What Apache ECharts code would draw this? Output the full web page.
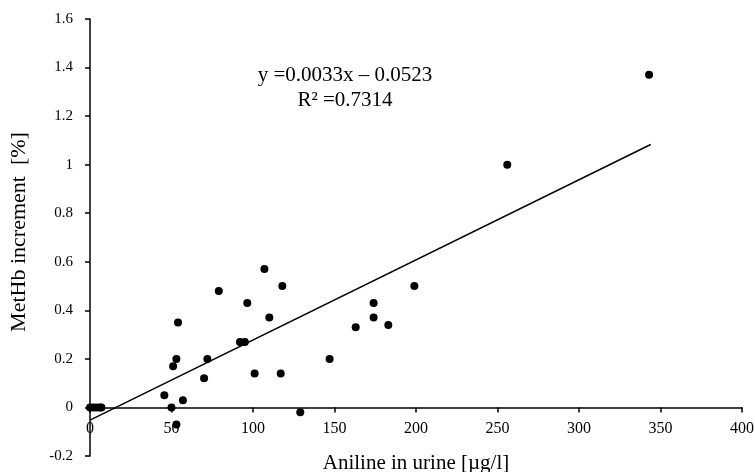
<!DOCTYPE html>
<html>
<head>
<meta charset="utf-8">
<script src="https://cdn.jsdelivr.net/npm/echarts@6/dist/echarts.min.js"></script>
<style>html,body{margin:0;padding:0;background:#fff}#c{width:755px;height:472px}</style>
</head>
<body>
<div id="c"></div>
<script>
const anilineX = [0, 2, 4, 6, 7, 45.6, 50, 51, 53, 53, 54, 57, 70, 72, 79, 92, 95, 96.5, 101, 107, 110, 117, 118, 129, 147, 163, 174, 174, 183, 199, 256, 343];
const methbY  = [0, 0, 0, 0, 0, 0.05, 0.0, 0.17, 0.20, -0.07, 0.35, 0.03, 0.12, 0.20, 0.48, 0.27, 0.27, 0.43, 0.14, 0.57, 0.37, 0.14, 0.50, -0.02, 0.20, 0.33, 0.43, 0.37, 0.34, 0.50, 1.00, 1.37];
const fitSlope = 0.0033;
const fitIntercept = -0.0523;
const fitRange = [0, 344];
const xTicks = [0, 50, 100, 150, 200, 250, 300, 350, 400];
const yTicks = [-0.2, 0, 0.2, 0.4, 0.6, 0.8, 1, 1.2, 1.4, 1.6];
const eqText = ['y =0.0033x \u2013 0.0523', 'R\u00b2 =0.7314'];
const xTitle = 'Aniline in urine [\u00b5g/l]';
const yTitle = 'MetHb increment  [%]';

const points = anilineX.map((x, i) => [x, methbY[i]]);
const fitLine = fitRange.map(x => [x, fitSlope * x + fitIntercept]);
const font = 'Liberation Serif';

const gridTop = 19, gridBottom = 16, H = 472;
const yMin = yTicks[0], yMax = yTicks[yTicks.length - 1];
const plotH = H - gridTop - gridBottom;
const zeroOffset = -plotH * (0 - yMin) / (yMax - yMin);

const chart = echarts.init(document.getElementById('c'), null, {renderer: 'canvas'});
chart.setOption({
  animation: false,
  backgroundColor: '#fff',
  grid: {left: 90, right: 13, top: gridTop, bottom: gridBottom, containLabel: false, outerBoundsMode: 'none'},
  xAxis: {
    type: 'value', min: xTicks[0], max: xTicks[xTicks.length - 1], interval: 50,
    position: 'bottom', offset: zeroOffset,
    axisLine: {show: true, onZero: false, lineStyle: {color: '#000', width: 1.5}},
    axisTick: {show: true, inside: false, length: 5, lineStyle: {color: '#000', width: 1.5}},
    axisLabel: {color: '#000', fontFamily: font, fontSize: 16, margin: 13},
    splitLine: {show: false}
  },
  yAxis: {
    type: 'value', min: yMin, max: yMax, interval: 0.2,
    axisLine: {show: true, onZero: false, lineStyle: {color: '#000', width: 1.5}},
    axisTick: {show: true, inside: false, length: 5, lineStyle: {color: '#000', width: 1.5}},
    axisLabel: {color: '#000', fontFamily: font, fontSize: 15, margin: 17,
      formatter: v => String(Math.round(v * 10) / 10)},
    splitLine: {show: false}
  },
  series: [
    {type: 'line', data: fitLine, symbol: 'none', lineStyle: {color: '#000', width: 1.5}, z: 2},
    {type: 'scatter', data: points, symbol: 'circle', symbolSize: 8, itemStyle: {color: '#000', opacity: 1}, z: 3}
  ],
  graphic: [
    {type: 'text', x: 345, y: 75, style: {text: eqText[0], fill: '#000', font: '21px "Liberation Serif"', align: 'center', verticalAlign: 'middle'}},
    {type: 'text', x: 345, y: 100, style: {text: eqText[1], fill: '#000', font: '21px "Liberation Serif"', align: 'center', verticalAlign: 'middle'}},
    {type: 'text', x: 416, y: 463, style: {text: xTitle, fill: '#000', font: '21px "Liberation Serif"', align: 'center', verticalAlign: 'middle'}},
    {type: 'text', x: 19, y: 232, rotation: Math.PI / 2, style: {text: yTitle, fill: '#000', font: '22px "Liberation Serif"', align: 'center', verticalAlign: 'middle'}}
  ]
});
</script>
</body>
</html>
